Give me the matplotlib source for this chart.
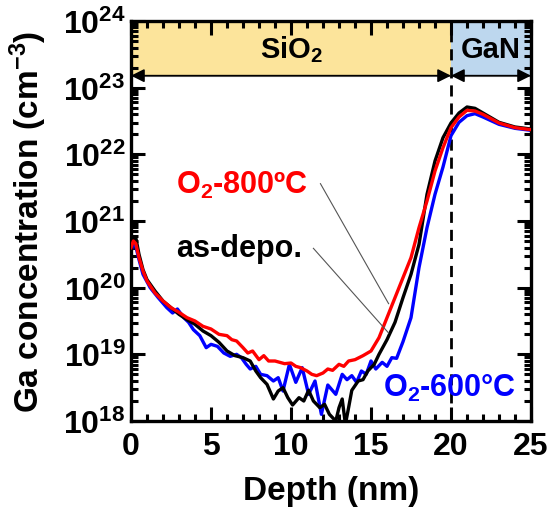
import numpy as np
import matplotlib
matplotlib.use("Agg")
import matplotlib.pyplot as plt
from matplotlib.ticker import FixedLocator, LogLocator, NullFormatter, FuncFormatter

plt.rcParams["font.family"] = ["Liberation Sans", "DejaVu Sans"]
plt.rcParams["font.weight"] = "bold"
plt.rcParams["axes.labelweight"] = "bold"
plt.rcParams["mathtext.fontset"] = "custom"
plt.rcParams["mathtext.rm"] = "Liberation Sans:bold"
plt.rcParams["mathtext.bf"] = "Liberation Sans:bold"
plt.rcParams["mathtext.default"] = "bf"

# as-deposited (black), log10 of concentration
depo_x = [0, 0.15, 0.3, 0.5, 0.75, 1.0, 1.5, 2.0, 2.5, 3.0, 3.5, 4.0, 4.5, 5.0, 5.5,
          6.0, 6.5, 7.0, 7.45, 7.8, 8.1, 8.5, 8.9, 9.2, 9.5, 9.8, 10.1, 10.5, 10.8,
          11.1, 11.4, 11.8, 12.1, 12.4, 12.8, 13.0, 13.2, 13.4, 13.6, 13.8, 14.2,
          14.5, 14.8, 15.2, 15.5, 16.0, 16.5, 17.0, 17.5, 18.0, 18.5, 19.0, 19.5,
          20.0, 20.5, 21.0, 21.5, 22.0, 23.0, 24.0, 25.0]
depo_y = [20.62, 20.72, 20.75, 20.5, 20.27, 20.12, 19.95, 19.8, 19.7, 19.6, 19.52,
          19.45, 19.35, 19.28, 19.18, 19.05, 18.98, 18.95, 18.9, 18.75, 18.65, 18.55,
          18.33, 18.45, 18.5, 18.35, 18.24, 18.35, 18.3, 18.46, 18.3, 18.2, 18.25,
          18.1, 18.0, 18.2, 18.33, 17.95, 18.2, 18.46, 18.6, 18.62, 18.75, 18.85,
          19.0, 19.22, 19.48, 19.85, 20.2, 20.65, 21.4, 21.9, 22.25, 22.47, 22.62,
          22.71, 22.69, 22.62, 22.48, 22.41, 22.38]

# O2-800C (red)
o800_x = [0, 0.15, 0.3, 0.5, 0.75, 1.0, 1.5, 2.0, 2.5, 3.0, 3.5, 4.0, 4.5, 5.0, 5.5,
          6.0, 6.3, 6.6, 7.0, 7.3, 7.6, 8.0, 8.3, 8.6, 9.0, 9.3, 9.6, 10.0, 10.3,
          10.6, 11.0, 11.3, 11.6, 12.0, 12.3, 12.6, 13.0, 13.3, 13.6, 14.0, 14.5,
          15.0, 15.5, 16.0, 16.5, 17.0, 17.5, 18.0, 18.5, 19.0, 19.5, 20.0, 20.5,
          21.0, 21.5, 22.0, 23.0, 24.0, 25.0]
o800_y = [20.6, 20.7, 20.66, 20.45, 20.25, 20.1, 19.92, 19.8, 19.7, 19.63, 19.55,
          19.5, 19.42, 19.38, 19.3, 19.28, 19.22, 19.2, 19.1, 19.02, 19.05, 18.92,
          18.98, 18.9, 18.9, 18.88, 18.86, 18.87, 18.82, 18.8, 18.75, 18.7, 18.68,
          18.72, 18.78, 18.76, 18.85, 18.82, 18.9, 18.92, 18.98, 19.05, 19.25, 19.55,
          19.85, 20.15, 20.45, 20.9, 21.3, 21.75, 22.1, 22.4, 22.56, 22.66, 22.65,
          22.6, 22.47, 22.4, 22.37]

# O2-600C (blue)
o600_x = [0, 0.15, 0.3, 0.5, 0.75, 1.2, 1.7, 2.24, 2.6, 2.9, 3.3, 3.6, 3.9, 4.3, 4.7,
          5.0, 5.4, 5.8, 6.2, 6.6, 6.9, 7.2, 7.45, 7.8, 8.1, 8.5, 8.9, 9.2, 9.5, 9.9,
          10.3, 10.7, 11.1, 11.5, 11.9, 12.3, 12.8, 13.2, 13.5, 13.8, 14.1, 14.4,
          14.7, 15.0, 15.3, 15.7, 16.0, 16.3, 16.6, 17.0, 17.5, 18.0, 18.5, 19.0,
          19.5, 20.0, 20.5, 21.0, 21.5, 22.0, 23.0, 24.0, 25.0]
o600_y = [20.55, 20.65, 20.62, 20.42, 20.2, 20.0, 19.85, 19.7, 19.62, 19.68, 19.55,
          19.48, 19.37, 19.28, 19.1, 19.15, 19.12, 19.02, 18.97, 19.0, 18.95, 18.85,
          18.78, 18.82, 18.7, 18.68, 18.6, 18.65, 18.45, 18.85, 18.58, 18.8, 18.4,
          18.6, 18.1, 18.54, 18.4, 18.7, 18.62, 18.68, 18.58, 18.75, 18.7, 18.9,
          18.78, 18.88, 18.82, 18.95, 18.94, 19.19, 19.55, 20.3, 20.9, 21.4, 21.81,
          22.28, 22.48, 22.58, 22.61, 22.56, 22.45, 22.39, 22.36]

fig = plt.figure(figsize=(5.53, 5.10), dpi=100)
ax = fig.add_axes([131 / 553, 1 - 422 / 510, 400 / 553, 400 / 510])

band_lo = 10 ** 23.18
ax.fill_between([0, 20], band_lo, 1e24, color="#FCE49B", lw=0, zorder=0)
ax.fill_between([20, 25], band_lo, 1e24, color="#BDD7EE", lw=0, zorder=0)
ax.axhline(band_lo, color="#999999", lw=0.8, zorder=0.5)
ax.axvline(20, color="black", lw=2, ls=(0, (4, 2.5)), zorder=1)

ax.annotate("", xy=(0, band_lo), xytext=(20, band_lo),
            arrowprops=dict(arrowstyle="<|-|>", color="black", lw=1.2,
                            mutation_scale=20, shrinkA=0, shrinkB=0))
ax.annotate("", xy=(20, band_lo), xytext=(25, band_lo),
            arrowprops=dict(arrowstyle="<|-|>", color="black", lw=1.2,
                            mutation_scale=20, shrinkA=0, shrinkB=0))
ax.text(10, 10 ** 23.58, "SiO$_2$", ha="center", va="center", fontsize=21)
ax.text(22.5, 10 ** 23.58, "GaN", ha="center", va="center", fontsize=21)

ax.plot(depo_x, 10 ** np.array(depo_y), color="black", lw=2.4, zorder=3)
ax.plot(o800_x, 10 ** np.array(o800_y), color="#FF0000", lw=2.4, zorder=4)
ax.plot(o600_x, 10 ** np.array(o600_y), color="#0000FF", lw=2.4, zorder=2)

ax.text(2.8, 10 ** 21.55, "O$_2$-800ºC", color="#FF0000", fontsize=22,
        ha="left", va="center")
ax.text(2.8, 10 ** 20.6, "as-depo.", color="black", fontsize=22,
        ha="left", va="center")
ax.text(15.75, 10 ** 18.5, "O$_2$-600°C", color="#0000FF", fontsize=22,
        ha="left", va="center", clip_on=False)
ax.plot([11.84, 16.1], [10 ** 21.56, 10 ** 19.76], color="#555555", lw=0.8, zorder=5)
ax.plot([11.4, 16.1], [10 ** 20.59, 10 ** 19.32], color="#555555", lw=0.8, zorder=5)

ax.set_yscale("log")
ax.set_xlim(0, 25)
ax.set_ylim(1e18, 1e24)
ax.xaxis.set_major_locator(FixedLocator([0, 5, 10, 15, 20, 25]))
ax.xaxis.set_minor_locator(FixedLocator(np.arange(0, 26, 1)))
ax.yaxis.set_major_locator(LogLocator(base=10, numticks=10))
ax.yaxis.set_minor_locator(LogLocator(base=10, subs=np.arange(2, 10), numticks=20))
ax.yaxis.set_minor_formatter(NullFormatter())
ax.yaxis.set_major_formatter(FuncFormatter(lambda v, p: r"10$^{%d}$" % round(np.log10(v))))

ax.tick_params(which="both", direction="in", top=True, right=True, width=2.2)
ax.tick_params(which="major", length=10, labelsize=23)
ax.tick_params(axis="x", which="major", pad=7)
ax.tick_params(axis="y", which="major", pad=4)
ax.tick_params(which="minor", length=5)
for s in ax.spines.values():
    s.set_linewidth(2.4)

ax.set_xlabel("Depth (nm)", fontsize=24)
ax.xaxis.set_label_coords(0.5, -0.135)
ax.set_ylabel("Ga concentration (cm$^{-3}$)", fontsize=24)
ax.yaxis.set_label_coords(-0.205, 0.5)

fig.savefig("out.png", dpi=100)
